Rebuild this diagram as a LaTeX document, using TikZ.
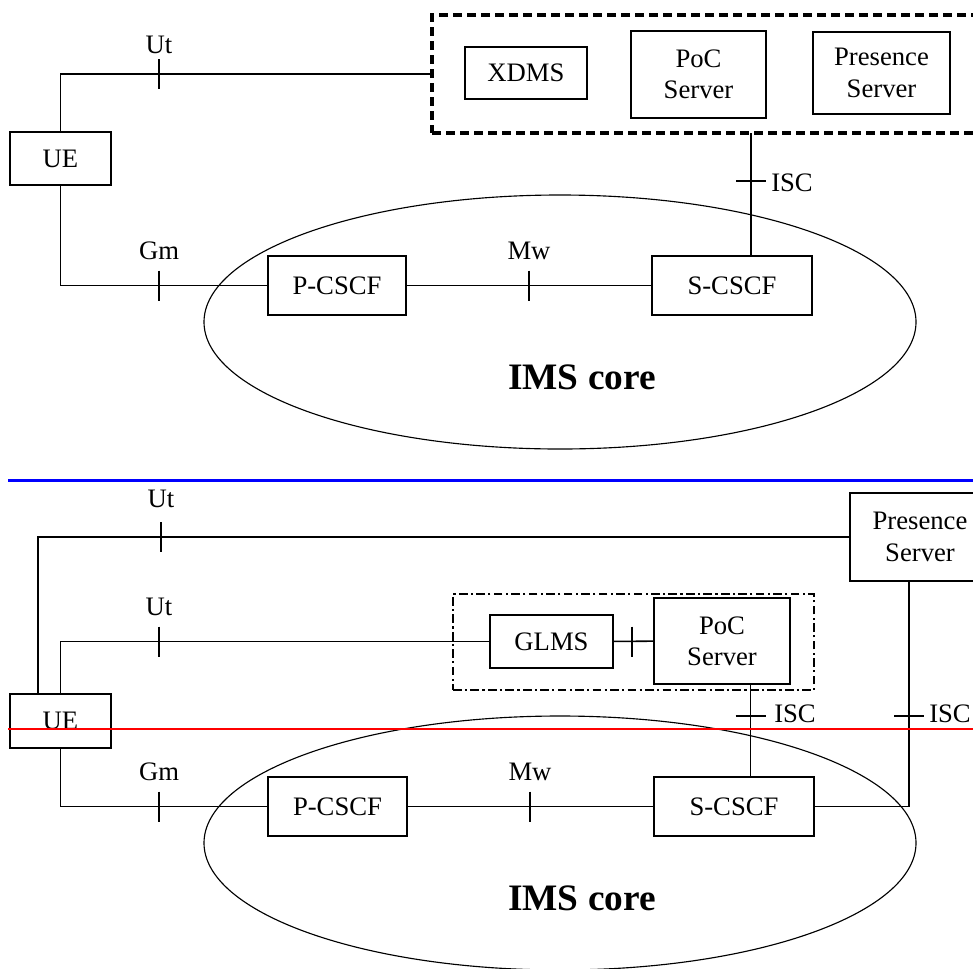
\documentclass[tikz,border=0pt]{standalone}
\usepackage{fontspec}
\setmainfont{Liberation Serif}
\begin{document}
\begin{tikzpicture}[x=0.75pt,y=-0.75pt,
 box/.style={draw, line width=1.15pt, inner sep=0pt, align=center, font=\fontsize{20}{23.5}\selectfont},
 conn/.style={line width=1.15pt},
 lbl/.style={inner sep=0pt, font=\fontsize{20}{23.5}\selectfont},
 core/.style={inner sep=0pt, font=\fontsize{28}{32}\selectfont\bfseries},
 grpdash/.style={draw, line width=2.4pt, dash pattern=on 6.75pt off 3.75pt, inner sep=0pt},
 grpdashdot/.style={draw, line width=1.7pt, dash pattern=on 6.5pt off 2.5pt on 1.6pt off 2.5pt, inner sep=0pt},
 cloud/.style={line width=0.85pt}]
\clip (0,0) rectangle (973,968);
\fill[white] (0,0) rectangle (973,968);

% ---------- top diagram ----------
\node[box, minimum width=75.75pt, minimum height=39.75pt] (UE1) at (60.5,158.5) {UE};
\node[grpdash, minimum width=418.5pt, minimum height=88.5pt] (G1) at (711,74) {};
\node[box, minimum width=91.5pt, minimum height=39pt] (XDMS) at (526,73) {XDMS};
\node[box, minimum width=101.25pt, minimum height=65.25pt] (PoC1) at (698.5,74.5) {PoC\\Server};
\node[box, minimum width=102.75pt, minimum height=61.5pt] (Pres1) at (881.5,73) {Presence\\Server};
\node[box, minimum width=103.5pt, minimum height=44.25pt] (P1) at (337,285.5) {P-CSCF};
\node[box, minimum width=120pt, minimum height=44.25pt] (S1) at (732,285.5) {S-CSCF};
\draw[cloud] (560,322) ellipse [x radius=267pt, y radius=95.25pt];
\node[core, anchor=base] (IMS1) at (582,389) {IMS core};

\draw[conn] (UE1.north) |- (G1.west);
\draw[conn] (UE1.south) |- (P1.west);
\draw[conn] (P1) -- (S1);
\coordinate (ISC1) at (751,133);
\draw[conn] (ISC1) -- (ISC1 |- S1.north);

\draw[conn] (159,74) ++(0,-15) -- ++(0,30);
\draw[conn] (159,285.5) ++(0,-15) -- ++(0,30);
\draw[conn] (529,285.5) ++(0,-15) -- ++(0,30);
\draw[conn] (751,181) ++(-15,0) -- ++(30,0);

\node[lbl, anchor=base] (Ut1) at (159,53) {Ut};
\node[lbl, anchor=base] (Gm1) at (159,259) {Gm};
\node[lbl, anchor=base] (Mw1) at (529,259) {Mw};
\node[lbl, anchor=base west] (ISC1l) at (771,191) {ISC};

% separator
\draw[blue, line width=2.1pt] (8,480.7) -- (973,480.7);

% ---------- bottom diagram ----------
\node[box, minimum width=75.75pt, minimum height=40.5pt] (UE2) at (60.5,721) {UE};
\node[box, minimum width=105pt, minimum height=66pt] (Pres2) at (920,537) {Presence\\Server};
\node[grpdashdot, minimum width=270.75pt, minimum height=72pt] (G2) at (633.5,642) {};
\node[box, minimum width=92.25pt, minimum height=39.75pt] (GLMS) at (551.5,641.5) {GLMS};
\node[box, minimum width=102pt, minimum height=64.5pt] (PoC2) at (722,641) {PoC\\Server};
\node[box, minimum width=104.25pt, minimum height=44.25pt] (P2) at (337.5,806.5) {P-CSCF};
\node[box, minimum width=120pt, minimum height=44.25pt] (S2) at (734,806.5) {S-CSCF};
\draw[cloud] (560,843) ellipse [x radius=267pt, y radius=95.25pt];
\node[core, anchor=base] (IMS2) at (582,910) {IMS core};

\coordinate (UE2a) at (38,694);
\draw[conn] (UE2a) |- (Pres2.west);
\draw[conn] (UE2.north) |- (GLMS.west);
\draw[conn] (GLMS) -- (PoC2);
\draw[conn] (UE2.south) |- (P2.west);
\draw[conn] (P2) -- (S2);
\coordinate (ISC2) at (750.5,684);
\draw[conn] (ISC2) -- (ISC2 |- S2.north);
\coordinate (ISC3) at (909,581);
\draw[conn] (ISC3) |- (S2.east);

\draw[conn] (161,537) ++(0,-15) -- ++(0,30);
\draw[conn] (159,641.5) ++(0,-15) -- ++(0,30);
\draw[conn] (632,641.5) ++(0,-15) -- ++(0,30);
\draw[conn] (159,806.5) ++(0,-15) -- ++(0,30);
\draw[conn] (530,806.5) ++(0,-15) -- ++(0,30);
\draw[conn] (750.5,716) ++(-15,0) -- ++(30,0);
\draw[conn] (909,716) ++(-15,0) -- ++(30,0);

\node[lbl, anchor=base] (Ut2) at (161,507) {Ut};
\node[lbl, anchor=base] (Ut3) at (159,615) {Ut};
\node[lbl, anchor=base] (Gm2) at (159,780) {Gm};
\node[lbl, anchor=base] (Mw2) at (530,780) {Mw};
\node[lbl, anchor=base west] (ISC2l) at (774,722) {ISC};
\node[lbl, anchor=base west] (ISC3l) at (929,722) {ISC};

% red line
\draw[red, line width=1.5pt] (8,729) -- (973,729);
\end{tikzpicture}
\end{document}
